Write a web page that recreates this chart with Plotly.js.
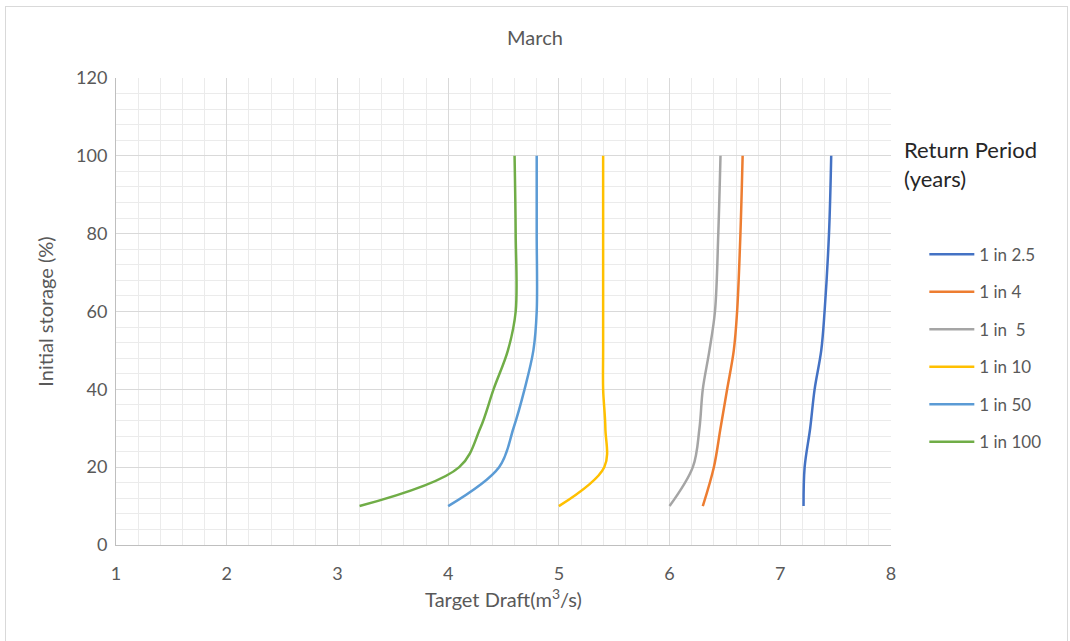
<!DOCTYPE html>
<html>
<head>
<meta charset="utf-8">
<script src="https://cdn.plot.ly/plotly-3.0.1.min.js"></script>
<style>
html,body{margin:0;padding:0;background:#fff;}
#chart{width:1070px;height:641px;}
#frame{position:absolute;left:5px;top:6px;width:1061px;height:640px;border:1px solid #d9d9d9;pointer-events:none;}
</style>
</head>
<body>
<div id="chart"></div>
<div id="frame"></div>
<script>
// Initial storage levels (%)
const storage = [10, 20, 30, 40, 50, 60, 80, 100];

// Target draft (m3/s) for each return period
const seriesNames = ["1 in 2.5", "1 in 4", "1 in  5", "1 in 10", "1 in 50", "1 in 100"];
const draft_2_5 = [7.21, 7.22, 7.27, 7.31, 7.37, 7.40, 7.44, 7.46];
const draft_4   = [6.30, 6.40, 6.46, 6.52, 6.58, 6.61, 6.64, 6.66];
const draft_5   = [6.00, 6.21, 6.27, 6.30, 6.36, 6.41, 6.44, 6.46];
const draft_10  = [5.00, 5.41, 5.42, 5.40, 5.40, 5.40, 5.40, 5.40];
const draft_50  = [4.00, 4.46, 4.59, 4.69, 4.77, 4.80, 4.80, 4.80];
const draft_100 = [3.20, 4.10, 4.29, 4.41, 4.54, 4.61, 4.61, 4.60];

const colors = ["#4472C4", "#ED7D31", "#A5A5A5", "#FFC000", "#5B9BD5", "#70AD47"];
const allDraft = [draft_2_5, draft_4, draft_5, draft_10, draft_50, draft_100];

const xTicks = [1, 2, 3, 4, 5, 6, 7, 8];
const yTicks = [0, 20, 40, 60, 80, 100, 120];

const FONT = "Lato, 'Open Sans', sans-serif";

const traces = allDraft.map((d, i) => ({
  x: d,
  y: storage,
  type: "scatter",
  mode: "lines",
  name: seriesNames[i],
  legendgroup: "g" + i,
  line: {color: colors[i], width: 2.5, shape: "spline", smoothing: 1},
  hoverinfo: "x+y+name"
}));

const layout = {
  width: 1070,
  height: 641,
  paper_bgcolor: "#ffffff",
  plot_bgcolor: "#ffffff",
  margin: {l: 116, r: 179, t: 78, b: 96},
  title: {text: "March", x: 0.5, xanchor: "center", y: 0.94, yanchor: "middle",
          font: {family: FONT, size: 20, color: "#595959"}},
  xaxis: {
    range: [1, 8],
    tickvals: xTicks,
    ticktext: xTicks.map(String),
    showgrid: true,
    gridcolor: "#d9d9d9",
    gridwidth: 1,
    minor: {dtick: 0.2, showgrid: true, gridcolor: "#ebebeb", gridwidth: 1},
    zeroline: false,
    showline: true,
    linecolor: "#bfbfbf",
    linewidth: 1,
    ticks: "",
    ticklabelstandoff: 12,
    tickfont: {family: FONT, size: 18, color: "#595959"},
    title: {text: "Target Draft(m<sup>3</sup>/s)", standoff: 10,
            font: {family: FONT, size: 20, color: "#595959"}},
    fixedrange: true
  },
  yaxis: {
    range: [0, 120],
    tickvals: yTicks,
    ticktext: yTicks.map(String),
    showgrid: true,
    gridcolor: "#d9d9d9",
    gridwidth: 1,
    minor: {dtick: 4, showgrid: true, gridcolor: "#ebebeb", gridwidth: 1},
    zeroline: false,
    showline: true,
    linecolor: "#bfbfbf",
    linewidth: 1,
    ticks: "",
    ticklabelstandoff: 4,
    tickfont: {family: FONT, size: 18, color: "#595959"},
    title: {text: "Initial storage (%)", standoff: 17,
            font: {family: FONT, size: 20, color: "#595959"}},
    fixedrange: true
  },
  showlegend: true,
  legend: {
    x: 1.043, xanchor: "left",
    y: 0.66, yanchor: "top",
    font: {family: FONT, size: 17, color: "#595959"},
    tracegroupgap: 12.4,
    itemwidth: 45,
    bgcolor: "rgba(0,0,0,0)"
  },
  annotations: [{
    text: "Return Period<br>(years)",
    xref: "paper", yref: "paper",
    x: 1.014, xanchor: "left",
    y: 0.88, yanchor: "top",
    align: "left",
    showarrow: false,
    font: {family: FONT, size: 22, color: "#262626"}
  }]
};

Plotly.newPlot("chart", traces, layout, {displayModeBar: false});
</script>
</body>
</html>
